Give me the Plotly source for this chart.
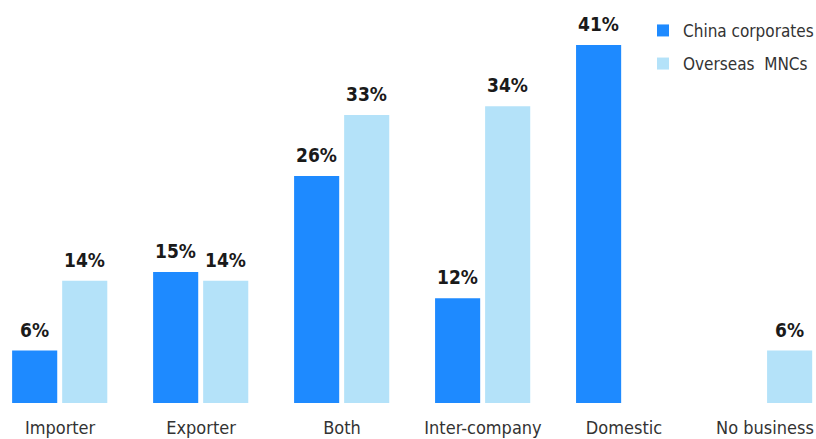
import plotly.graph_objects as go

# Business exposure by respondent type (% of respondents)
categories = ["Importer", "Exporter", "Both", "Inter-company", "Domestic", "No business"]
china_corporates = [6, 15, 26, 12, 41, None]
overseas_mncs = [14, 14, 33, 34, None, 6]

DARK = "#1E8AFF"
LIGHT = "#B4E2F9"
FONT = "Liberation Sans Narrow, DejaVu Sans Condensed, Arial Narrow, sans-serif"

x_idx = list(range(len(categories)))
BAR_W = 0.32
OFF_DARK = -0.34
OFF_LIGHT = 0.015

fig = go.Figure()
fig.add_trace(go.Bar(
    x=x_idx, y=china_corporates, name="China corporates",
    marker=dict(color=DARK, line=dict(width=0)),
    width=BAR_W, offset=OFF_DARK, legendgroup="a",
))
fig.add_trace(go.Bar(
    x=x_idx, y=overseas_mncs, name="Overseas  MNCs",
    marker=dict(color=LIGHT, line=dict(width=0)),
    width=BAR_W, offset=OFF_LIGHT, legendgroup="b",
))

# Value labels above each bar
annotations = []
for series, off in ((china_corporates, OFF_DARK), (overseas_mncs, OFF_LIGHT)):
    for i, v in enumerate(series):
        if v is None:
            continue
        annotations.append(dict(
            x=i + off + BAR_W / 2, y=v, xref="x", yref="y",
            text=f"<b>{v}%</b>", showarrow=False,
            yanchor="bottom", yshift=8,
            font=dict(family=FONT, size=19, color="#1a1a1a"),
        ))

fig.update_layout(
    width=816, height=439,
    margin=dict(l=0, r=0, t=0, b=36, autoexpand=False),
    plot_bgcolor="white", paper_bgcolor="white",
    barmode="overlay",
    font=dict(family=FONT, size=18, color="#333333"),
    annotations=annotations,
    showlegend=True,
    legend=dict(
        x=0.788, y=0.968, xanchor="left", yanchor="top",
        font=dict(family=FONT, size=17, color="#333333"),
        tracegroupgap=8, bgcolor="rgba(0,0,0,0)",
        traceorder="grouped",
    ),
    xaxis=dict(
        range=[-0.426, 5.362], automargin=False,
        tickvals=x_idx, ticktext=categories,
        showgrid=False, zeroline=False, showline=False,
        ticks="", ticklabelstandoff=12, ticklabeloverflow="allow",
        tickfont=dict(family=FONT, size=18, color="#333333"),
        fixedrange=True,
    ),
    yaxis=dict(
        range=[0, 46.16], visible=False, showgrid=False, zeroline=False,
        automargin=False, fixedrange=True,
    ),
)

fig.write_html("out.html")
